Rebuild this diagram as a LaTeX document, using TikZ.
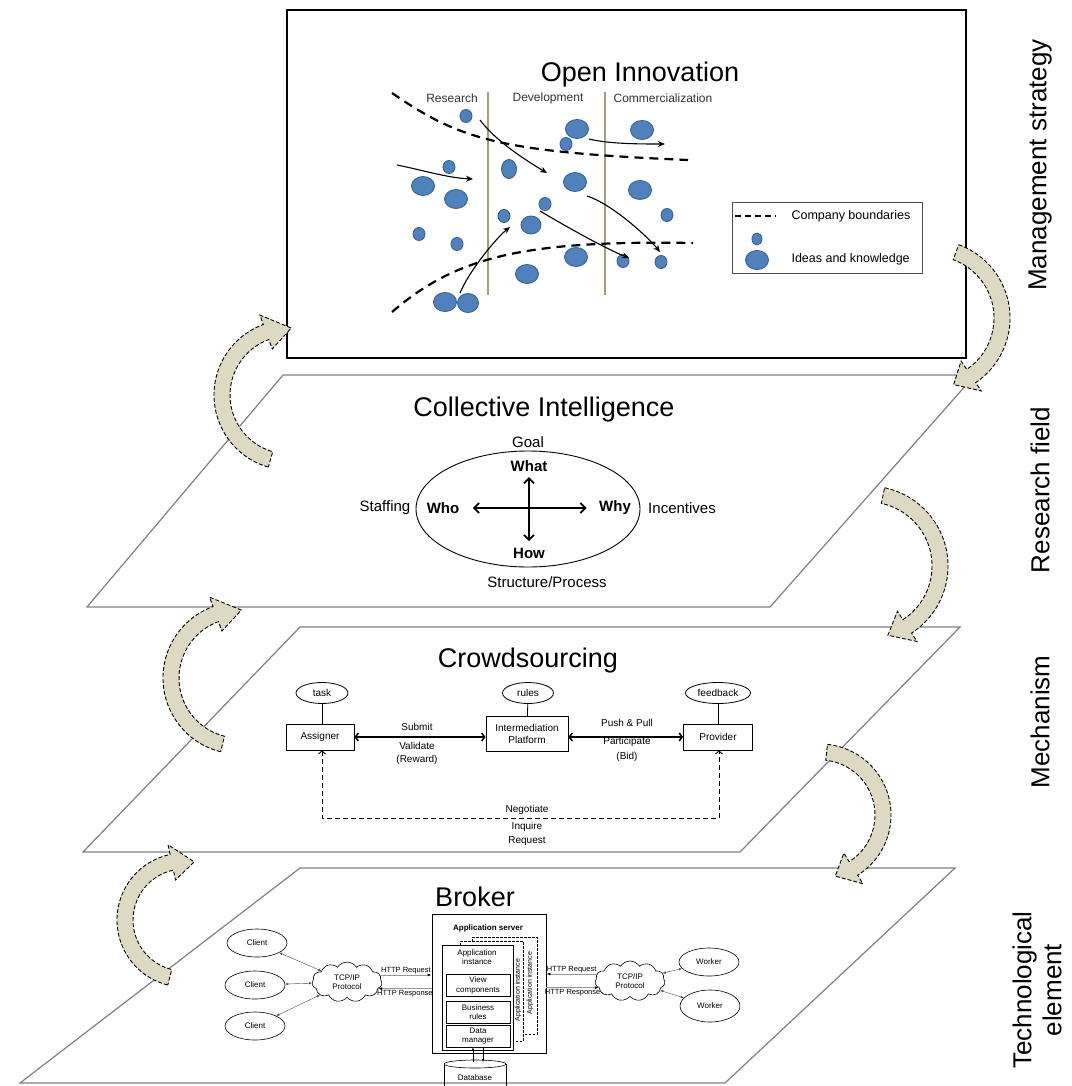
\documentclass[tikz,border=0pt]{standalone}
\usepackage{fontspec}
\setmainfont{Liberation Sans}
\usetikzlibrary{arrows.meta}
\usetikzlibrary{shapes.geometric}
\usetikzlibrary{shapes.symbols}
\usetikzlibrary{calc}
\usetikzlibrary{positioning}
\definecolor{ideafill}{HTML}{4F81BD}
\definecolor{ideaedge}{HTML}{3A6394}
\definecolor{swingfill}{HTML}{DDD9C3}
\definecolor{phase}{HTML}{A39E78}
\definecolor{planegray}{HTML}{7F7F7F}
\newcommand{\fsz}[1]{\fontsize{#1}{1.15\dimexpr#1pt\relax}\selectfont}
\tikzstyle{plane}=[draw=planegray, line width=1.2pt]
\tikzstyle{frame}=[draw=black, line width=1.4pt, fill=white]
\tikzstyle{title}=[font=\fsz{27}]
\tikzstyle{side}=[font=\fsz{26}, rotate=90, align=center]
\tikzstyle{phaselbl}=[font=\fsz{12}, text=black!80]
\tikzstyle{idea}=[ellipse, draw=ideaedge, fill=ideafill, line width=0.9pt, inner sep=0pt, minimum width=12pt, minimum height=13pt]
\tikzstyle{bigidea}=[idea, minimum width=23pt, minimum height=19pt]
\tikzstyle{tallidea}=[idea, minimum width=15pt, minimum height=19pt]
\tikzstyle{bound}=[line width=2.2pt, dash pattern=on 9pt off 6pt]
\tikzstyle{flow}=[->, >={Stealth[length=7pt,width=6pt]}, line width=1.1pt]
\tikzstyle{swing}=[fill=swingfill, draw=black, line width=0.9pt, dash pattern=on 4pt off 2pt]
\tikzstyle{cilbl}=[font=\fsz{15}]
\tikzstyle{cibold}=[font=\fsz{15}\bfseries]
\tikzstyle{ciarr}=[<->, >={Straight Barb[length=5pt,width=10pt]}, line width=1.8pt]
\tikzstyle{csbox}=[draw, line width=0.8pt, font=\fsz{10}, align=center, inner sep=0pt]
\tikzstyle{csell}=[ellipse, draw, line width=0.8pt, font=\fsz{10}, inner sep=0pt, minimum height=21pt]
\tikzstyle{cslbl}=[font=\fsz{10}]
\tikzstyle{csarr}=[<->, >={Straight Barb[length=3pt,width=8pt]}, line width=1.5pt]
\tikzstyle{actor}=[ellipse, draw, line width=0.6pt, minimum width=60pt, minimum height=28pt, inner sep=0pt, font=\fsz{8}]
\tikzstyle{net}=[cloud, cloud puffs=11, cloud puff arc=115, aspect=1.8, draw, line width=0.6pt, inner sep=0pt, minimum width=70pt, minimum height=40pt, align=center, font=\fsz{8}]
\tikzstyle{layer}=[draw, line width=0.6pt, minimum width=64pt, minimum height=22pt, align=center, font=\fsz{8}, inner sep=0pt]
\tikzstyle{link}=[<->, >={Latex[length=3pt,width=2.5pt]}, line width=0.4pt, draw=black!70]
\tikzstyle{http}=[->, >={Latex[length=4pt,width=3pt,color=black]}, line width=0.8pt, draw=black!40]
\tikzstyle{brlbl}=[font=\fsz{7.5}, inner sep=1pt]
\newcommand{\swingarrow}[5]{%
  \pgfmathsetmacro\swo{#2+8}\pgfmathsetmacro\swi{#2-8}%
  \pgfmathsetmacro\swho{#2+18}\pgfmathsetmacro\swhi{#2-18}%
  \draw[swing, shift={(#1)}] (#3:\swo) arc[start angle=#3, end angle=#4, radius=\swo]
    -- (#4:\swho) -- (#5:#2) -- (#4:\swhi) -- (#4:\swi)
    arc[start angle=#4, end angle=#3, radius=\swi] -- cycle;}

\begin{document}
\begin{tikzpicture}[x=1pt,y=-1pt]
\useasboundingbox (0,0) rectangle (1071,1086);

% the three layers below the top frame
\draw[plane] (283,375) -- (975,375) -- (770,607) -- (87,607) -- cycle;
\draw[plane] (300,627) -- (960,627) -- (740,852) -- (83,852) -- cycle;
\draw[plane] (300,868) -- (955,868) -- (725,1083) -- (20,1083) -- cycle;
\draw[frame] (287,10) rectangle (966,358);

% Open Innovation
\node[title] (oi) at (640,75) {Open Innovation};
\coordinate (c1t) at (488,92); \coordinate (c1b) at (488,295);
\coordinate (c2t) at (605,92); \coordinate (c2b) at (605,295);
\draw[phase, line width=1.6pt] (c1t) -- (c1b);
\draw[phase, line width=1.6pt] (c2t) -- (c2b);
\node[phaselbl] (res) at (452,98) {Research};
\node[phaselbl] (dev) at (548,98) {Development};
\node[phaselbl] (com) at (663,98) {Commercialization};

\node[idea] (i1) at (466,116) {};
\node[bigidea] (i2) at (577,129) {};
\node[idea] (i3) at (566,144) {};
\node[bigidea] (i4) at (642,130) {};
\node[idea] (i5) at (449,167) {};
\node[bigidea] (i6) at (423,186) {};
\node[bigidea] (i7) at (456,199) {};
\node[tallidea] (i8) at (509,169) {};
\node[bigidea] (i9) at (575,182) {};
\node[bigidea] (i10) at (640,190) {};
\node[idea] (i11) at (545,204) {};
\node[idea] (i12) at (504,216) {};
\node[bigidea, minimum width=20pt, minimum height=18pt] (i13) at (531,225) {};
\node[idea] (i14) at (667,215) {};
\node[idea] (i15) at (419,234) {};
\node[idea] (i16) at (457,244) {};
\node[bigidea] (i17) at (576,257) {};
\node[idea] (i18) at (623,261) {};
\node[idea] (i19) at (661,262) {};
\node[bigidea] (i20) at (527,274) {};
\node[bigidea] (i21) at (445,302) {};
\node[bigidea, minimum width=21pt] (i22) at (468,303) {};

\coordinate (b1s) at (392,93); \coordinate (b1e) at (688,160);
\coordinate (b2s) at (392,312); \coordinate (b2e) at (693,243);
\draw[bound] (b1s) .. controls (460,140) and (500,152) .. (b1e);
\draw[bound] (b2s) .. controls (455,258) and (520,240) .. (b2e);

\coordinate (a1s) at (480,120); \coordinate (a1e) at (547,173);
\coordinate (a2s) at (397,165); \coordinate (a2e) at (473,179);
\coordinate (a3s) at (589,139); \coordinate (a3e) at (665,144);
\coordinate (a4s) at (587,196); \coordinate (a4e) at (660,252);
\coordinate (a5s) at (540,211); \coordinate (a5e) at (629,258);
\coordinate (a6s) at (460,293); \coordinate (a6e) at (510,227);
\draw[flow] (a1s) .. controls +(15,20) and +(-25,-15) .. (a1e);
\draw[flow] (a2s) .. controls +(25,5) and +(-25,-1) .. (a2e);
\draw[flow] (a3s) .. controls +(20,5) and +(-25,0) .. (a3e);
\draw[flow] (a4s) .. controls +(25,8) and +(-12,-15) .. (a4e);
\draw[flow] (a5s) .. controls +(20,12) and +(-25,-10) .. (a5e);
\draw[flow] (a6s) .. controls +(8,-20) and +(-15,12) .. (a6e);

% legend
\draw[line width=0.8pt, draw=black!70] (732,202) rectangle (922,273);
\coordinate (lg1) at (735,216); \coordinate (lg2) at (776,216);
\draw[line width=1.6pt, dash pattern=on 6pt off 4pt] (lg1) -- (lg2);
\node[font=\fsz{12.5}, anchor=west] (lgb) at (788,216) {Company boundaries};
\node[idea, minimum width=10pt, minimum height=12pt] (lgs) at (757,239) {};
\node[bigidea] (lgl) at (757,260) {};
\node[font=\fsz{12.5}, anchor=west] (lgi) at (788,259) {Ideas and knowledge};

% Collective Intelligence
\node[title] (ci) at (544,410) {Collective Intelligence};
\node[ellipse, draw, line width=0.9pt, minimum width=224pt, minimum height=116pt] (cie) at (528,509) {};
\node[cilbl] (goal) at (528,442) {Goal};
\node[cibold] (what) at (529,466) {What};
\node[cibold] (how) at (529,553) {How};
\node[cibold] (who) at (443,508) {Who};
\node[cibold] (why) at (615,508) {Why};
\node[cilbl] (staff) at (385,508) {Staffing};
\node[cilbl] (inc) at (682,508) {Incentives};
\node[cilbl] (struct) at (547,582) {Structure/Process};
\draw[ciarr, shorten <=10pt, shorten >=9pt] (who) -- (why);
\draw[ciarr, shorten <=2pt, shorten >=3pt] (what) -- (how);

% Crowdsourcing
\node[title] (cs) at (528,661) {Crowdsourcing};
\node[csbox, minimum width=68pt, minimum height=26pt] (asg) at (320,737) {Assigner};
\node[csbox, minimum width=82pt, minimum height=35pt] (imp) at (527,734) {Intermediation\\Platform};
\node[csbox, minimum width=69pt, minimum height=26pt] (prv) at (718,737) {Provider};
\node[csell, minimum width=52pt] (task) at (322,693) {task};
\node[csell, minimum width=51pt] (rules) at (528,693) {rules};
\node[csell, minimum width=65pt] (fb) at (718,693) {feedback};
\draw[line width=0.8pt] (task) -- (task |- asg.north);
\draw[line width=0.8pt] (rules) -- (imp);
\draw[line width=0.8pt] (fb) -- (prv);
\draw[csarr] (asg.east) -- (asg.east -| imp.west);
\draw[csarr] (imp.east |- prv.west) -- (prv.west);
\node[cslbl] (sub) at (417,727) {Submit};
\node[cslbl] (val) at (417,746) {Validate};
\node[cslbl] (rew) at (417,760) {(Reward)};
\node[cslbl] (pp) at (627,723) {Push \& Pull};
\node[cslbl] (par) at (627,742) {Participate};
\node[cslbl] (bid) at (627,757) {(Bid)};
\coordinate (negl) at (322,818); \coordinate (negr) at (719,818);
\draw[<->, >={Straight Barb[length=3pt,width=7pt]}, line width=0.9pt, dash pattern=on 5pt off 3pt]
  (asg.south -| negl) -- (negl) -- (negr) -- (prv.south -| negr);
\node[cslbl] (neg) at (527,810) {Negotiate};
\node[cslbl] (inq) at (527,827) {Inquire};
\node[cslbl] (req) at (527,841) {Request};

% Broker
\node[title] (br) at (475,897) {Broker};
\node[draw, line width=0.8pt, minimum width=114pt, minimum height=139pt] (srv) at (489,983.5) {};
\node[font=\fsz{8}\bfseries] (srvt) at (488,928) {Application server};
\draw[line width=0.6pt, dash pattern=on 2.5pt off 1.5pt] (472,941) -- (472,937) -- (537,937) -- (537,1034) -- (523,1034);
\draw[line width=0.6pt, dash pattern=on 2.5pt off 1.5pt] (460,945) -- (460,941) -- (523,941) -- (523,1041) -- (513,1041);
\node[font=\fsz{7}, rotate=90] (ai2) at (530,983) {Application instance};
\node[font=\fsz{7}, rotate=90] (ai1) at (518,990) {Application instance};
\node[draw, fill=white, line width=0.6pt, minimum width=71pt, minimum height=105pt] (inst) at (477.5,997.5) {};
\node[font=\fsz{8}, align=center] (instt) at (477,957) {Application\\instance};
\node[layer] (view) at (478,985.5) {View\\components};
\node[layer] (biz) at (478,1012) {Business\\rules};
\node[layer] (dm) at (478,1036) {Data\\manager};
\draw[line width=0.6pt] (444,1064) -- (444,1095) (506,1064) -- (506,1095);
\draw[line width=0.6pt, fill=white] (475,1064) ellipse [x radius=31, y radius=4];
\node[font=\fsz{8}] (db) at (475,1078) {Database};
\coordinate (dbtop) at (478,1062);
\draw[->, >={Latex[length=3pt,width=2.5pt]}, line width=0.5pt] ([xshift=-5pt]dbtop) -- ([xshift=-5pt]dm.south);
\draw[->, >={Latex[length=3pt,width=2.5pt]}, line width=0.5pt] ([xshift=5pt]dm.south) -- ([xshift=5pt]dbtop);

\node[actor] (cl1) at (257,943) {Client};
\node[actor] (cl2) at (255,985) {Client};
\node[actor] (cl3) at (255,1026) {Client};
\node[net] (lnet) at (347,982) {TCP/IP\\Protocol};
\draw[link] (cl1) -- (lnet);
\draw[link] (cl2) -- (lnet);
\draw[link] (cl3) -- (lnet);
\draw[http] (lnet.12) -- (lnet.12 -| srv.west) node[brlbl, midway, above] {HTTP Request};
\draw[http] (lnet.-12 -| srv.west) -- (lnet.-12) node[brlbl, midway, below] {HTTP Response};

\node[net] (rnet) at (630,981) {TCP/IP\\Protocol};
\node[actor] (wk1) at (709,962) {Worker};
\node[actor, minimum height=32pt] (wk2) at (710,1006) {Worker};
\draw[link] (rnet) -- (wk1);
\draw[link] (rnet) -- (wk2);
\draw[http] (rnet.168) -- (rnet.168 -| srv.east) node[brlbl, midway, above] {HTTP Request};
\draw[http] (rnet.-168 -| srv.east) -- (rnet.-168) node[brlbl, midway, below] {HTTP Response};

% arrows between the layers
\swingarrow{289,395}{67}{106}{250}{272}
\swingarrow{239,678}{68}{104}{250}{272}
\swingarrow{184,920}{59}{104}{258}{280}
\swingarrow{932,318}{70}{-70}{56}{72}
\swingarrow{868,566}{72}{-78}{57}{74}
\swingarrow{820,815}{63}{-84}{58}{76}

% level names
\node[side] (lv1) at (1040,165) {Management strategy};
\node[side] (lv2) at (1040,490) {Research field};
\node[side] (lv3) at (1040,722) {Mechanism};
\node[side, font=\fontsize{26}{30}\selectfont] (lv4) at (1037,990) {Technological\\element};
\end{tikzpicture}
\end{document}
